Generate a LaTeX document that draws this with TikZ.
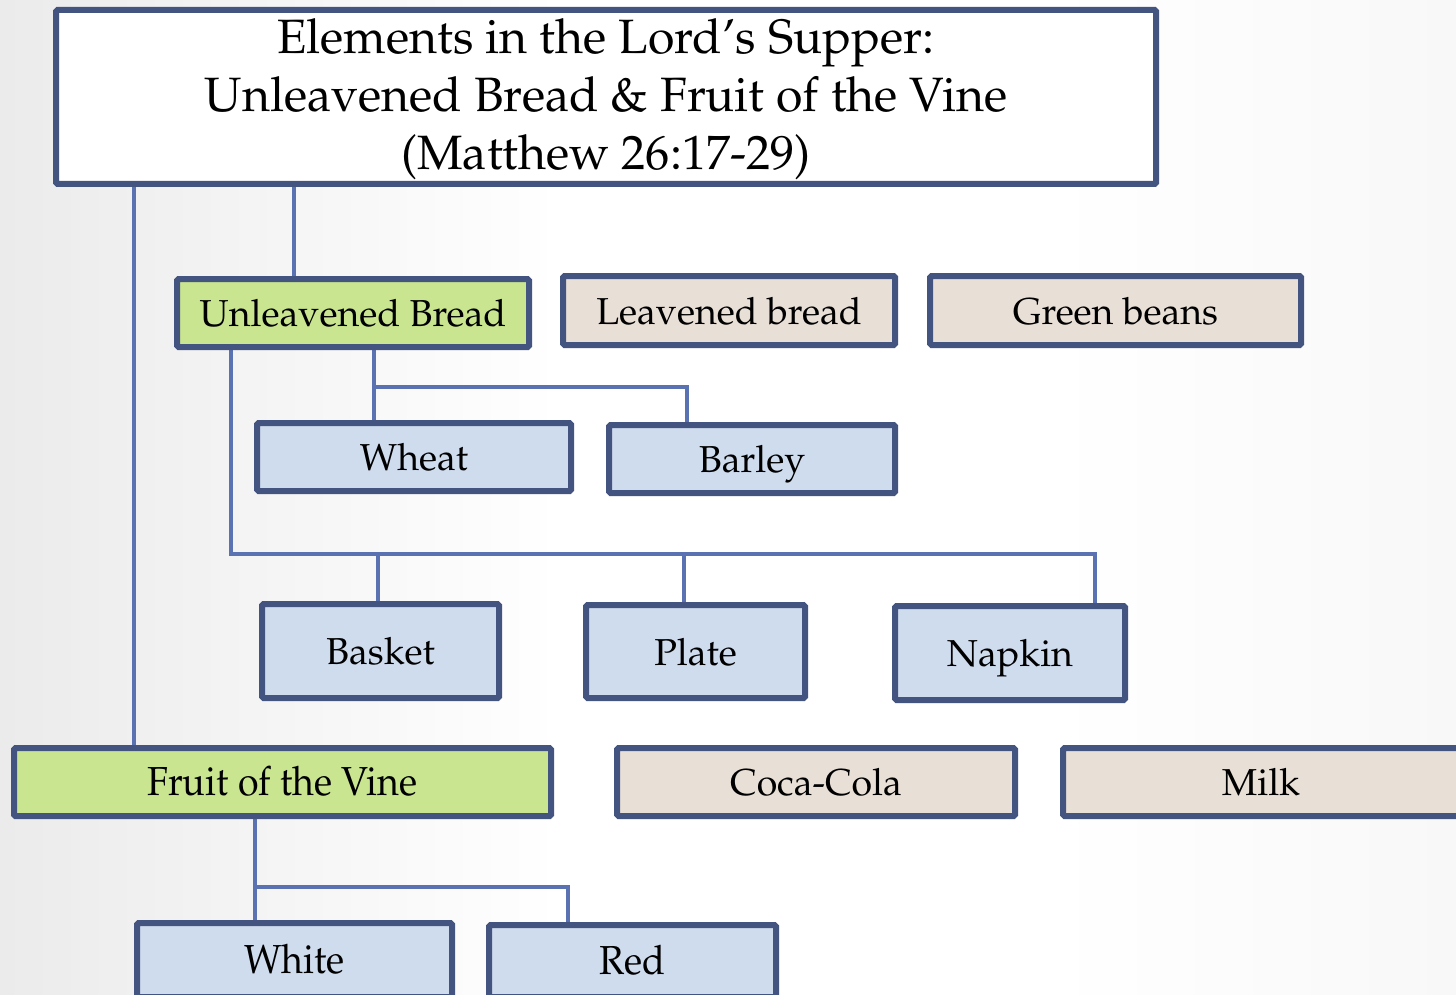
\documentclass[tikz,border=0pt]{standalone}
\usepackage[T1]{fontenc}
\usepackage{mathpazo}
\definecolor{bordc}{RGB}{68,84,128}
\definecolor{linec}{RGB}{91,114,178}
\definecolor{greenf}{RGB}{201,229,143}
\definecolor{tanf}{RGB}{232,223,214}
\definecolor{bluef}{RGB}{207,220,238}
\definecolor{bgl}{RGB}{235,235,235}
\definecolor{bgr}{RGB}{248,248,248}
\pgfdeclarelayer{bg}
\pgfdeclarelayer{lines}
\pgfsetlayers{bg,lines,main}
\tikzset{
  box/.style={draw=bordc, line width=6pt, rounded corners=1.5pt, inner sep=0pt, align=center,
    text height=34pt, text depth=7pt, font=\fontsize{37.5}{42}\selectfont},
  gbox/.style={box, fill=greenf},
  tbox/.style={box, fill=tanf},
  bbox/.style={box, fill=bluef},
  conn/.style={draw=linec, line width=4.5pt}
}
\newcommand{\tall}[1]{\scalebox{1}[1.08]{#1}}
\begin{document}
\begin{tikzpicture}[x=1pt,y=-1pt]
\useasboundingbox (0,0) rectangle (1456,995);
\begin{pgfonlayer}{bg}
\fill[white] (0,0) rectangle (1456,995);
\shade[left color=bgl, right color=white] (0,0) rectangle (560,995);
\shade[left color=white, right color=bgr] (1050,0) rectangle (1456,995);
\end{pgfonlayer}
\begin{scope}
\clip (0,0) rectangle (1456,995);
% nodes
\node[draw=bordc, line width=6pt, rounded corners=1.5pt, inner sep=0pt, align=center, fill=white, minimum width=1100pt, minimum height=174pt, font=\fontsize{48.2}{58}\selectfont] (title) at (606,97) {};
\node[align=center, inner sep=0pt, font=\fontsize{48.2}{58}\selectfont] (titletext) at (606,99)
  {Elements in the Lord's Supper:\\Unleavened Bread \& Fruit of the Vine\\(Matthew 26:17-29)};
\node[gbox, minimum width=352pt, minimum height=68pt] (ub) at (353,313) {Unleavened Bread};
\node[tbox, minimum width=332pt, minimum height=69pt] (lb) at (729,310.5) {Leavened bread};
\node[tbox, minimum width=371pt, minimum height=69pt] (gb) at (1115.5,310.5) {Green beans};
\node[bbox, minimum width=314pt, minimum height=68pt] (wheat) at (414,457) {Wheat};
\node[bbox, minimum width=286pt, minimum height=68pt] (barley) at (752,459) {Barley};
\node[bbox, minimum width=237pt, minimum height=94pt] (basket) at (380.5,651) {Basket};
\node[bbox, minimum width=219pt, minimum height=93pt] (plate) at (695.5,651.5) {Plate};
\node[bbox, minimum width=230pt, minimum height=94pt] (napkin) at (1010,653) {Napkin};
\node[gbox, minimum width=537pt, minimum height=68pt] (fruit) at (282.5,782) {\tall{Fruit of the Vine}};
\node[tbox, minimum width=398pt, minimum height=68pt] (coca) at (816,782) {Coca-Cola};
\node[tbox, minimum width=396pt, minimum height=68pt] (milk) at (1261,782) {Milk};
\node[bbox, minimum width=315pt, minimum height=74pt] (white) at (294.5,960) {\tall{White}};
\node[bbox, minimum width=287pt, minimum height=72pt] (red) at (632.5,961) {\tall{Red}};
\end{scope}
% connectors
\coordinate (xa) at (134,0);
\coordinate (xb) at (294,0);
\coordinate (xc) at (374,0);
\coordinate (xd) at (687,0);
\coordinate (xe) at (231,0);
\coordinate (xf) at (378,0);
\coordinate (xg) at (684,0);
\coordinate (xh) at (1095,0);
\coordinate (xi) at (255,0);
\coordinate (xj) at (568,0);
\coordinate (ja) at (374,387);
\coordinate (jb) at (231,554);
\coordinate (jc) at (255,887);
\begin{pgfonlayer}{lines}
\draw[conn] (title.south -| xa) -- (fruit.north -| xa);
\draw[conn] (title.south -| xb) -- (ub.north -| xb);
\draw[conn] (ub.south -| xc) -- (wheat.north -| xc);
\draw[conn] (ja) -- (ja -| xd) -- (barley.north -| xd);
\draw[conn] (ub.south -| xe) -- (jb) -- (jb -| xh) -- (napkin.north -| xh);
\draw[conn] (jb -| xf) -- (basket.north -| xf);
\draw[conn] (jb -| xg) -- (plate.north -| xg);
\draw[conn] (fruit.south -| xi) -- (white.north -| xi);
\draw[conn] (jc) -- (jc -| xj) -- (red.north -| xj);
\end{pgfonlayer}
\end{tikzpicture}
\end{document}
